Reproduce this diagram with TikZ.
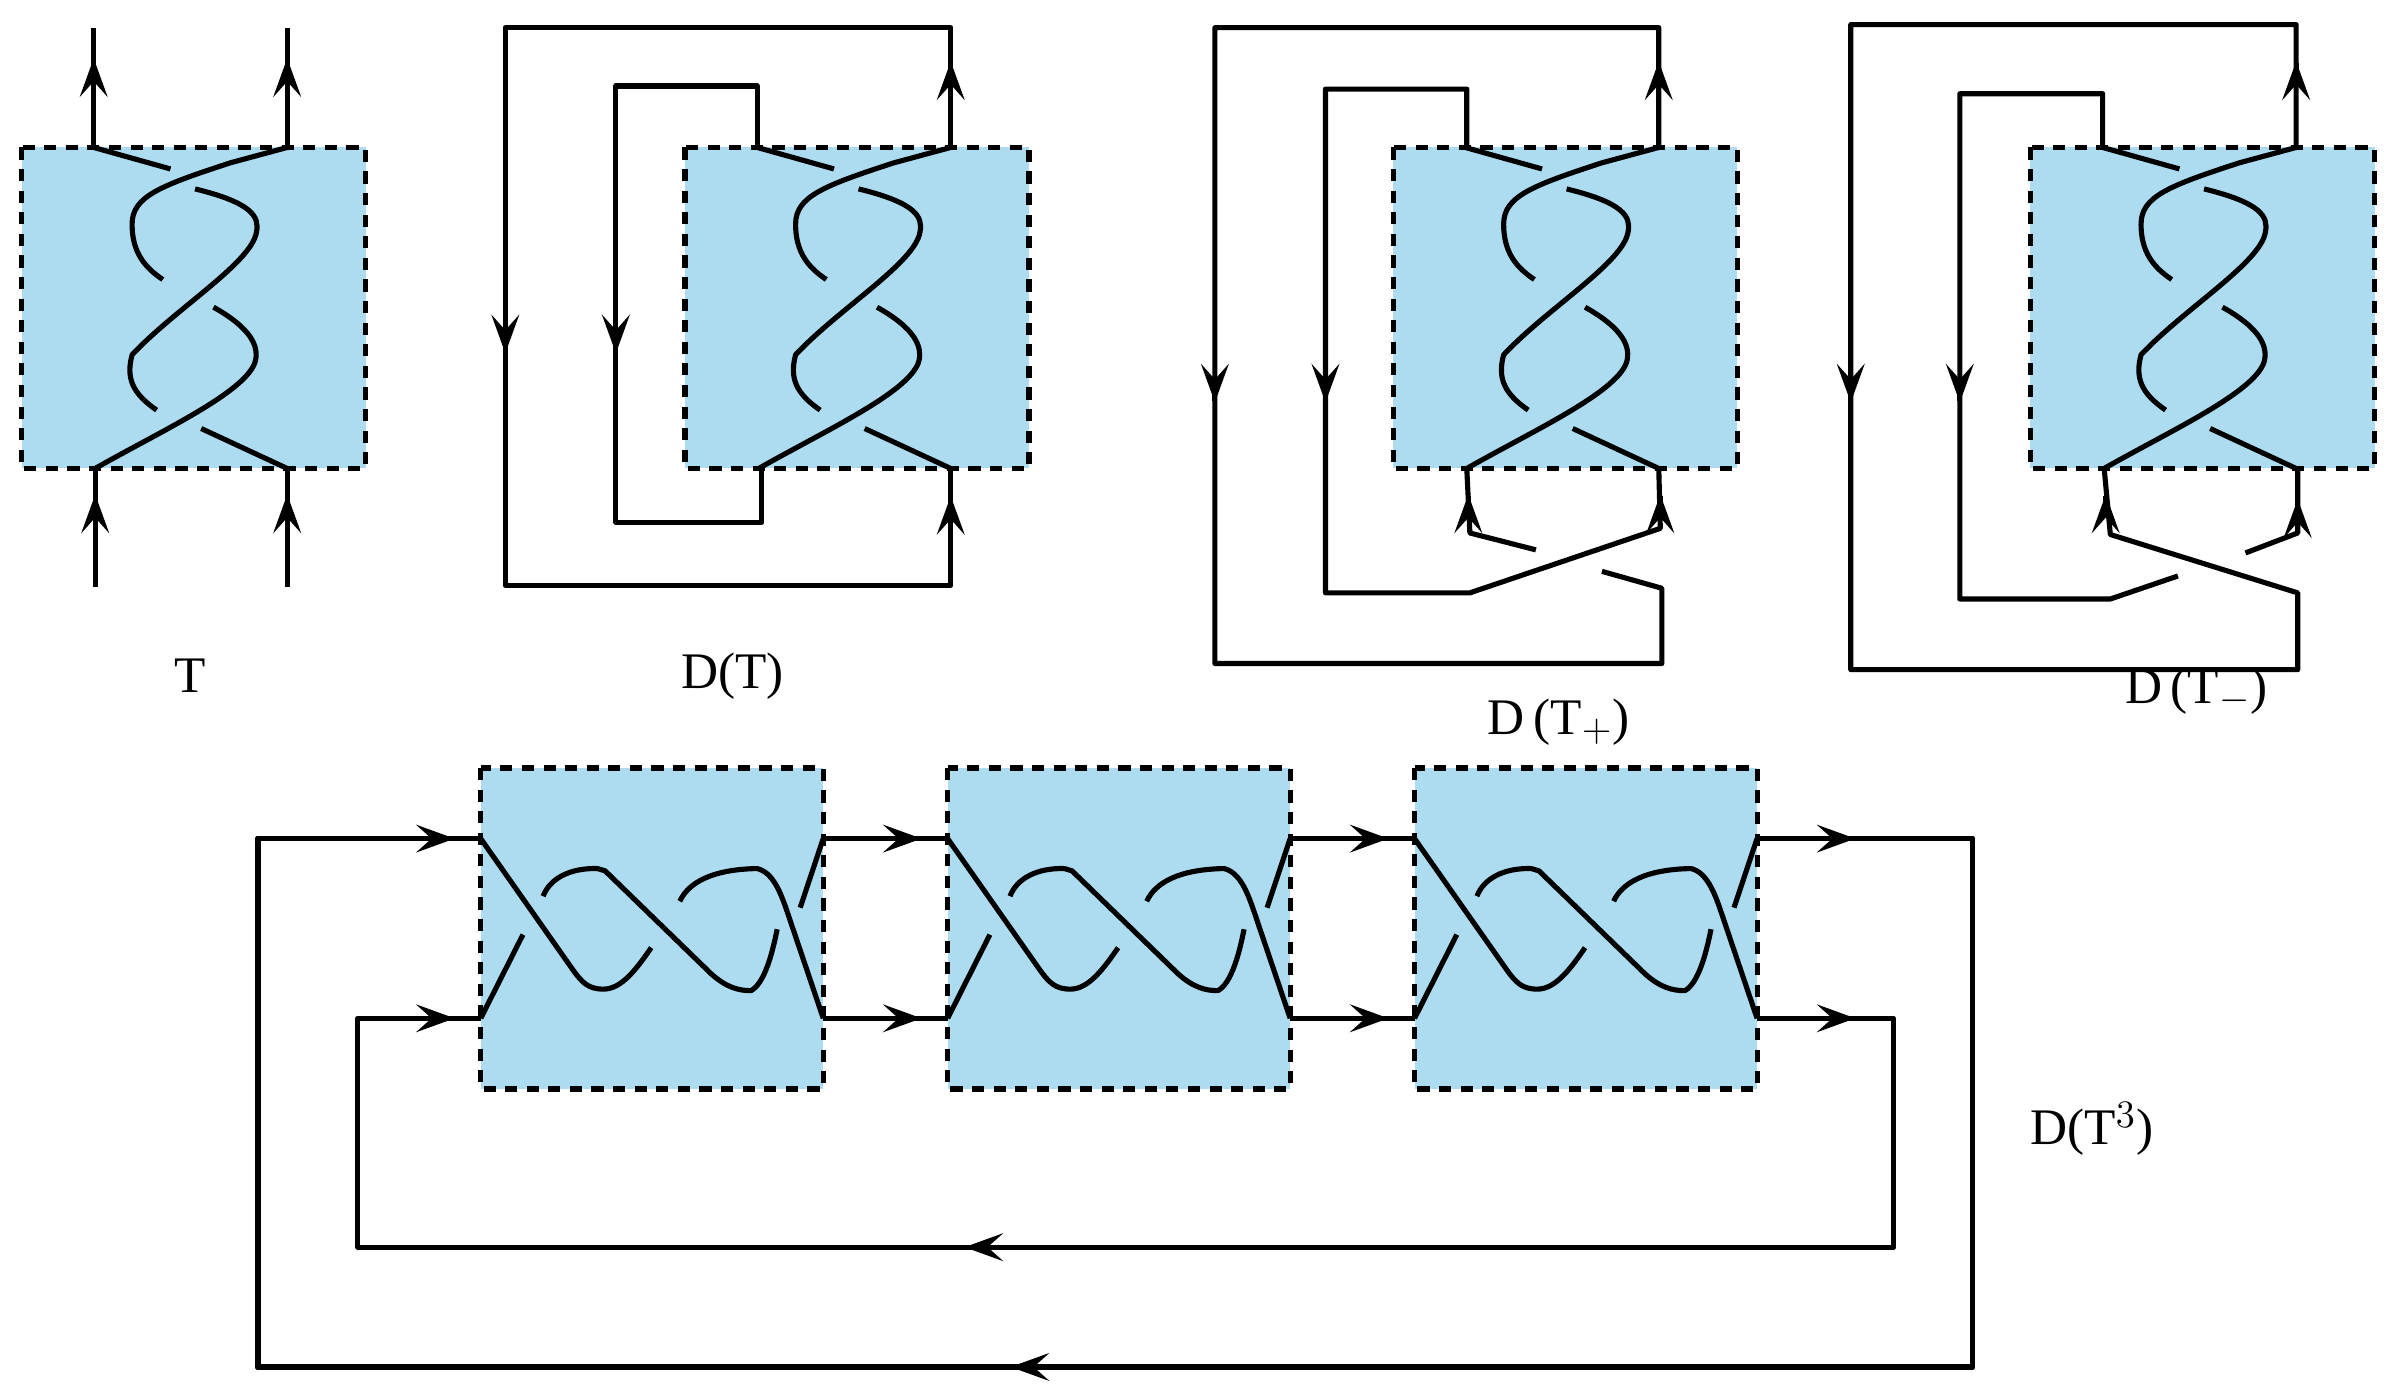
\documentclass[tikz,border=0pt]{standalone}
\usepackage{fontspec}
\setmainfont{Liberation Serif}
\usetikzlibrary{arrows.meta}

% Local definitions
\definecolor{tanglecolor}{RGB}{173,220,240}

\tikzset{
  strand/.style={line width=1.9pt,line join=round},
  box fill/.style={fill=tanglecolor},
  box line/.style={line width=1.9pt,dash pattern=on 4.5pt off 3.5pt},
  tip/.style={line width=1.9pt,-{Stealth[length=5mm,width=3.6mm,inset=2mm]}},
  label text/.style={font=\fontsize{19}{22}\selectfont,inner sep=0pt}
}

% arrow tip at (#1,#2) pointing along (#3,#4)
\newcommand\tipat[4]{\draw[tip] ({#1-#3},{#2-#4}) -- (#1,#2);}

% vertical tangle, box top left at (#1,#2)
\newcommand\vtangle[2]{
  \begin{scope}[shift={(#1,#2)}]
    \fill[box fill] (0,0) rectangle (224,209);
    \draw[box line] (0,0) rectangle (224,209);
    \draw[strand] (47,0) -- (97,14);
    \draw[strand] (173,0) -- (136,10) .. controls (90,25) and (72,32) .. (72,50)
      .. controls (72,68) and (80,78) .. (92,86);
    \draw[strand] (113,27) .. controls (150,36) and (155,45) .. (153,55)
      .. controls (150,75) and (100,105) .. (72,135)
      .. controls (68,150) and (72,160) .. (88,171);
    \draw[strand] (125,104) .. controls (150,118) and (155,130) .. (152,140)
      .. controls (145,160) and (90,185) .. (48,209);
    \draw[strand] (117,183) -- (173,209);
  \end{scope}
}

% horizontal tangle, box top left at (#1,#2)
\newcommand\htangle[2]{
  \begin{scope}[shift={(#1,#2)}]
    \fill[box fill] (0,0) rectangle (223,209);
    \draw[box line] (0,0) rectangle (223,209);
    \draw[strand] (0,46) -- (59,130) .. controls (66,140) and (70,144) .. (80,144)
      .. controls (92,144) and (102,130) .. (111,117);
    \draw[strand] (40.6,83.5) .. controls (45,72) and (58,65) .. (76,65.5) -- (81,67)
      -- (150,134) .. controls (160,143) and (168,145) .. (176,145)
      .. controls (185,140) and (190,120) .. (193,105);
    \draw[strand] (129.6,86.8) .. controls (135,75) and (150,66) .. (180,65.5)
      .. controls (190,68) and (195,80) .. (200,95) -- (223,163);
    \draw[strand] (208,91) -- (223,46);
    \draw[strand] (0,163) -- (27.5,108.5);
  \end{scope}
}

\begin{document}
\begin{tikzpicture}[x=0.02cm,y=-0.02cm]
  \useasboundingbox (0,0) rectangle (1560,907);

  % T
  \vtangle{14}{96}
  \draw[strand] (61,96) -- (61,18);
  \draw[strand] (187,96) -- (187,18);
  \draw[strand] (62,305) -- (62,382);
  \draw[strand] (187,305) -- (187,382);
  \tipat{61}{38}{0}{-1} \tipat{187}{38}{0}{-1}
  \tipat{62}{322}{0}{-1} \tipat{187}{322}{0}{-1}
  \node[label text] (labT) at (124,440) {T};

  % D(T)
  \vtangle{446}{96}
  \draw[strand] (619,96) -- (619,18) -- (329,18) -- (329,381) -- (619,381) -- (619,305);
  \draw[strand] (493,96) -- (493,56) -- (401,56) -- (401,340) -- (496,340) -- (496,305);
  \tipat{619}{40}{0}{-1} \tipat{619}{323}{0}{-1}
  \tipat{329}{230}{0}{1} \tipat{401}{230}{0}{1}
  \node[label text] (labDT) at (477,440) {D(T)};

  % D(T+)
  \vtangle{907}{96}
  \draw[strand] (1080,96) -- (1080,18) -- (791,18) -- (791,432) -- (1082,432) -- (1082,383) -- (1043,372);
  \draw[strand] (955,96) -- (955,58) -- (863,58) -- (863,386) -- (957,386) -- (1081,344) -- (1080,305);
  \draw[strand] (955,305) -- (957,347) -- (1000,358);
  \tipat{1080}{40}{0}{-1} \tipat{1081}{322}{0}{-1} \tipat{956}{322}{0}{-1}
  \tipat{791}{262}{0}{1} \tipat{863}{262}{0}{1}
  \node[label text] (labDTp) at (1015,470) {D\,(T$_+$)};

  % D(T-)
  \vtangle{1322}{96}
  \draw[strand] (1495,96) -- (1495,16) -- (1205,16) -- (1205,436) -- (1496,436) -- (1496,386) -- (1374,348) -- (1370,305);
  \draw[strand] (1369,96) -- (1369,61) -- (1276,61) -- (1276,390) -- (1374,390) -- (1418,375);
  \tipat{1495}{40}{0}{-1} \tipat{1371}{322}{0}{-1} \tipat{1496}{325}{0}{-1}
  \tipat{1205}{262}{0}{1} \tipat{1276}{262}{0}{1}
  \draw[strand] (1496,305) -- (1496,347) -- (1462,360);
  \node[label text] (labDTm) at (1430,450) {D\,(T$_-$)};

  % D(T^3)
  \foreach \i in {0,1,2}
    \htangle{313+304*\i}{500}
  \foreach \i in {0,1}
  {
    \draw[strand] ({536+304*\i},546) -- ({617+304*\i},546);
    \draw[strand] ({536+304*\i},663) -- ({617+304*\i},663);
  }
  \draw[strand] (1144,546) -- (1284,546) -- (1284,890) -- (168,890) -- (168,546) -- (313,546);
  \draw[strand] (1144,663) -- (1233,663) -- (1233,812) -- (233,812) -- (233,663) -- (313,663);
  \foreach \x in {296,600,904,1208}
  {
    \tipat{\x}{546}{1}{0}
    \tipat{\x}{663}{1}{0}
  }
  \tipat{628}{812}{-1}{0}
  \tipat{658}{890}{-1}{0}
  \node[label text] (labDT3) at (1362,735) {D(T$^3$)};
\end{tikzpicture}
\end{document}
